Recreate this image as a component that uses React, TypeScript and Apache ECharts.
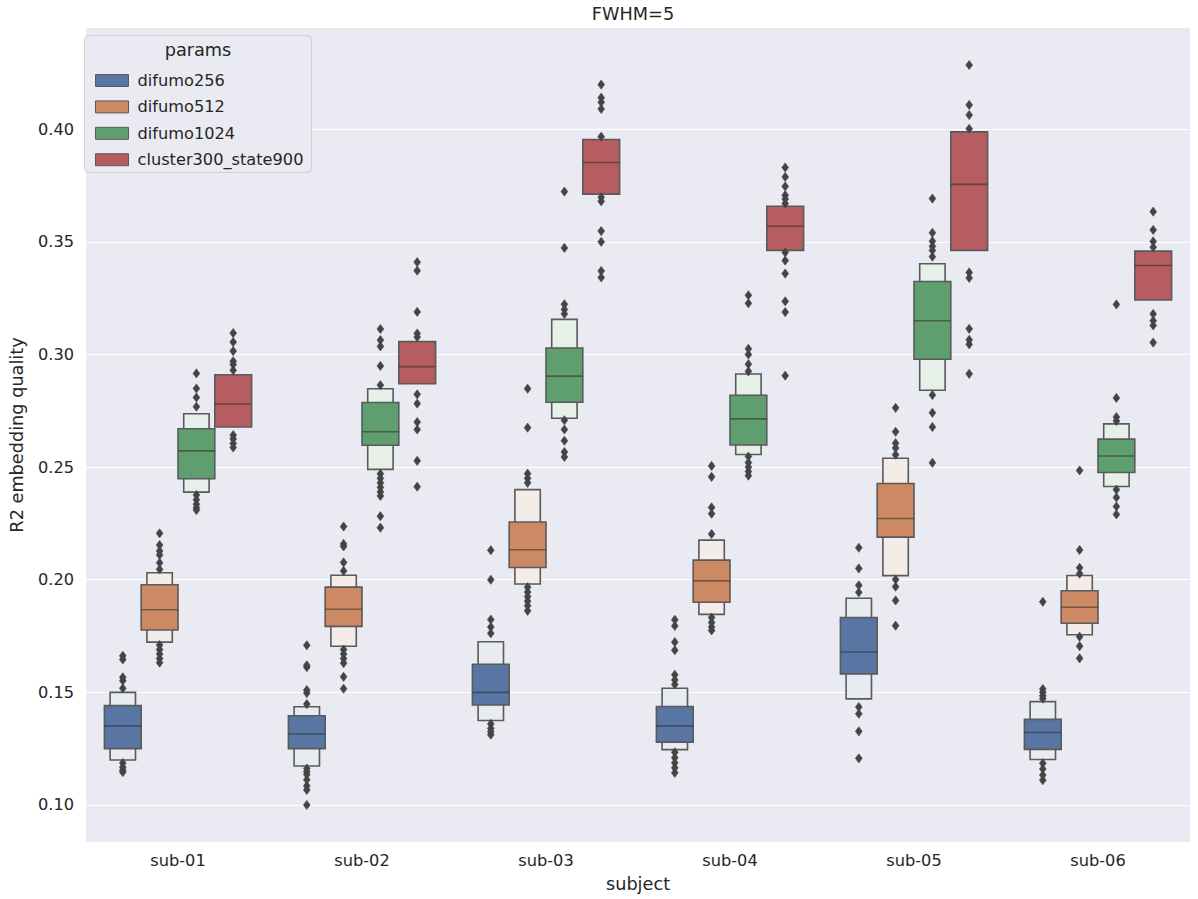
import React, { useEffect, useRef } from "react";
import * as echarts from "echarts";

const subjects = ["sub-01", "sub-02", "sub-03", "sub-04", "sub-05", "sub-06"];
const params = ["difumo256", "difumo512", "difumo1024", "cluster300_state900"];
const yTicks = [0.1, 0.15, 0.2, 0.25, 0.3, 0.35, 0.4];

const mainColors = ["#5875a4", "#cc8963", "#5f9e6e", "#b55d60"];
const lightColors = ["#e8ebf0", "#f4ece8", "#e6f0e8", "#f4e8e8"];

// [param][subject]
const medians = [
  [0.1351, 0.1315, 0.15, 0.1351, 0.1679, 0.1322],
  [0.1867, 0.1869, 0.2133, 0.1995, 0.2272, 0.1878],
  [0.2572, 0.2657, 0.2904, 0.2714, 0.315, 0.2549],
  [0.278, 0.2946, 0.3852, 0.3569, 0.3755, 0.3395],
];
const innerLow = [
  [0.125, 0.125, 0.1444, 0.1279, 0.1582, 0.1247],
  [0.1777, 0.1793, 0.2054, 0.19, 0.2189, 0.1807],
  [0.2448, 0.2597, 0.2788, 0.2598, 0.2979, 0.2476],
  [0.2678, 0.287, 0.3712, 0.3462, 0.3462, 0.3242],
];
const innerHigh = [
  [0.1441, 0.1396, 0.1625, 0.1437, 0.1832, 0.138],
  [0.1978, 0.1967, 0.2256, 0.2087, 0.2427, 0.1951],
  [0.267, 0.2787, 0.3029, 0.2819, 0.3324, 0.2624],
  [0.291, 0.3057, 0.3954, 0.3658, 0.3988, 0.3459],
];
const outerLow: (number | null)[][] = [
  [0.12, 0.1173, 0.1375, 0.1246, 0.1471, 0.1202],
  [0.1723, 0.1705, 0.1981, 0.1846, 0.2018, 0.1756],
  [0.2389, 0.249, 0.2717, 0.2556, 0.2841, 0.2414],
  [null, null, null, null, null, null],
];
const outerHigh: (number | null)[][] = [
  [0.15, 0.1436, 0.1725, 0.1518, 0.1918, 0.1459],
  [0.2031, 0.202, 0.24, 0.2176, 0.2539, 0.2019],
  [0.2737, 0.2848, 0.3156, 0.2913, 0.3403, 0.2692],
  [null, null, null, null, null, null],
];
const outliers: number[][][] = [
  [
    [0.1662, 0.1646, 0.1567, 0.1552, 0.1518, 0.1186, 0.1168, 0.1155, 0.1146],
    [0.1709, 0.162, 0.1612, 0.151, 0.1497, 0.1448, 0.1162, 0.1148, 0.1135, 0.1112, 0.1085, 0.1067, 0.1],
    [0.2131, 0.2, 0.1823, 0.179, 0.1762, 0.136, 0.134, 0.1325, 0.1312],
    [0.1822, 0.1795, 0.1723, 0.1687, 0.1578, 0.1555, 0.1535, 0.1234, 0.121, 0.1187, 0.1165, 0.1143],
    [0.2142, 0.205, 0.1975, 0.1944, 0.1435, 0.1405, 0.1327, 0.1207],
    [0.1902, 0.1515, 0.15, 0.1485, 0.1472, 0.1185, 0.116, 0.1133, 0.111],
  ],
  [
    [0.2206, 0.2154, 0.2128, 0.211, 0.2075, 0.2046, 0.171, 0.169, 0.167, 0.165, 0.1632],
    [0.2236, 0.2159, 0.2148, 0.2077, 0.2039, 0.169, 0.167, 0.165, 0.163, 0.1569, 0.1516],
    [0.2848, 0.2675, 0.2471, 0.245, 0.243, 0.1967, 0.1945, 0.1925, 0.1905, 0.1885, 0.1862],
    [0.2505, 0.2457, 0.2321, 0.2293, 0.2203, 0.1832, 0.181, 0.179, 0.1775],
    [0.2763, 0.2657, 0.2606, 0.2585, 0.2555, 0.2001, 0.1969, 0.1908, 0.1796],
    [0.2485, 0.2132, 0.2053, 0.2027, 0.1747, 0.1705, 0.1651],
  ],
  [
    [0.2916, 0.2849, 0.2809, 0.2768, 0.2376, 0.2355, 0.2335, 0.232, 0.2309],
    [0.3113, 0.3064, 0.3036, 0.2949, 0.2864, 0.247, 0.245, 0.243, 0.241, 0.239, 0.2372, 0.2282, 0.2231],
    [0.3723, 0.3473, 0.3223, 0.32, 0.318, 0.2708, 0.2667, 0.2617, 0.2567, 0.2545],
    [0.3263, 0.3227, 0.3025, 0.3, 0.2957, 0.2925, 0.2547, 0.252, 0.25, 0.248, 0.2462],
    [0.3692, 0.354, 0.3503, 0.348, 0.3462, 0.3434, 0.282, 0.2741, 0.2678, 0.2519],
    [0.3222, 0.2807, 0.2722, 0.2705, 0.24, 0.2365, 0.2325, 0.229],
  ],
  [
    [0.3095, 0.3055, 0.3015, 0.297, 0.2955, 0.293, 0.2642, 0.2625, 0.2605, 0.2587],
    [0.341, 0.3372, 0.3189, 0.3093, 0.3077, 0.2823, 0.2782, 0.27, 0.2667, 0.2528, 0.2413],
    [0.4198, 0.414, 0.412, 0.409, 0.3967, 0.3698, 0.368, 0.3548, 0.35, 0.3371, 0.3342],
    [0.383, 0.3788, 0.3746, 0.3707, 0.369, 0.367, 0.3453, 0.3417, 0.3359, 0.3236, 0.3188, 0.2906],
    [0.4285, 0.4108, 0.4063, 0.4002, 0.3364, 0.334, 0.3114, 0.3065, 0.3045, 0.2914],
    [0.3634, 0.3553, 0.3502, 0.3476, 0.318, 0.315, 0.3129, 0.3053],
  ],
];

const FONT = "DejaVu Sans";
const TEXT = "#262626";
const EDGE = "#5a5a5a";
const SMALL = 16.2;
const LARGE = 17.7;

export default function App() {
  const ref = useRef<HTMLDivElement>(null);
  useEffect(() => {
    const chart = echarts.init(ref.current!, null, { renderer: "svg" });

    const boxRender = (k: number) => (p: any, api: any) => {
      const idx = api.value(0);
      const band = api.size([1, 0])[0];
      const w = (band * 0.8) / 4;
      const cx = api.coord([idx, 0.2])[0] + (k - 1.5) * w;
      const y = (v: number) => api.coord([idx, v])[1];
      const oLo = api.value(1);
      const iLo = api.value(2);
      const med = api.value(3);
      const iHi = api.value(4);
      const oHi = api.value(5);
      const children: any[] = [];
      if (oLo > 0 && oHi > 0) {
        const ow = w * 0.69;
        children.push({
          type: "rect",
          shape: { x: cx - ow / 2, y: y(oHi), width: ow, height: y(oLo) - y(oHi) },
          style: { fill: lightColors[k], stroke: EDGE, lineWidth: 1.6 },
        });
      }
      children.push({
        type: "rect",
        shape: { x: cx - w / 2, y: y(iHi), width: w, height: y(iLo) - y(iHi) },
        style: { fill: mainColors[k], stroke: EDGE, lineWidth: 1.6 },
      });
      children.push({
        type: "line",
        shape: { x1: cx - w / 2, y1: y(med), x2: cx + w / 2, y2: y(med) },
        style: { stroke: "rgba(45,45,45,0.55)", lineWidth: 1.6 },
      });
      return { type: "group", children };
    };

    const outlierRender = (k: number) => (p: any, api: any) => {
      const idx = api.value(0);
      const band = api.size([1, 0])[0];
      const w = (band * 0.8) / 4;
      const pt = api.coord([idx, api.value(1)]);
      const cx = pt[0] + (k - 1.5) * w;
      const cy = pt[1];
      return {
        type: "polygon",
        shape: { points: [[cx, cy - 4.6], [cx + 3.4, cy], [cx, cy + 4.6], [cx - 3.4, cy]] },
        style: { fill: "#444444", stroke: "#444444", lineWidth: 0.6 },
      };
    };

    const series: any[] = [];
    params.forEach((name, k) => {
      series.push({
        type: "custom",
        name,
        renderItem: boxRender(k),
        itemStyle: { color: mainColors[k], borderColor: EDGE, borderWidth: 1 },
        encode: { x: 0, y: [1, 2, 3, 4, 5] },
        data: subjects.map((s, i) => [
          i,
          outerLow[k][i] == null ? "-" : outerLow[k][i],
          innerLow[k][i],
          medians[k][i],
          innerHigh[k][i],
          outerHigh[k][i] == null ? "-" : outerHigh[k][i],
        ]),
        z: 3,
      });
    });
    params.forEach((name, k) => {
      const data: any[] = [];
      subjects.forEach((s, i) => outliers[k][i].forEach((v) => data.push([i, v])));
      series.push({
        type: "custom",
        name: name + " outliers",
        renderItem: outlierRender(k),
        itemStyle: { color: "#444444" },
        encode: { x: 0, y: 1 },
        data,
        z: 4,
      });
    });

    const option: any = {
      animation: false,
      backgroundColor: "#ffffff",
      textStyle: { fontFamily: FONT },
      grid: { left: 76, top: 28, width: 1114, height: 814, show: true, backgroundColor: "#EAEAF2", borderWidth: 0 },
      xAxis: {
        type: "category",
        data: subjects,
        boundaryGap: true,
        axisLine: { show: false },
        axisTick: { show: false },
        splitLine: { show: false },
        axisLabel: { fontSize: SMALL, color: TEXT, margin: 10, fontFamily: FONT },
        name: "subject",
        nameLocation: "middle",
        nameGap: 33,
        nameTextStyle: { fontSize: LARGE, color: TEXT, fontFamily: FONT },
      },
      yAxis: {
        type: "value",
        min: 0.08357,
        max: 0.44493,
        axisLine: { show: false },
        axisTick: { show: false, customValues: yTicks },
        axisLabel: {
          customValues: yTicks,
          fontSize: SMALL,
          color: TEXT,
          margin: 12,
          fontFamily: FONT,
          formatter: (v: number) => v.toFixed(2),
        },
        splitLine: { show: true, lineStyle: { color: "#ffffff", width: 1.2 } },
        name: "R2 embedding quality",
        nameLocation: "middle",
        nameGap: 60,
        nameRotate: 90,
        nameTextStyle: { fontSize: LARGE, color: TEXT, fontFamily: FONT },
      },
      legend: {
        data: params,
        orient: "vertical",
        left: 90,
        top: 67,
        itemWidth: 33,
        itemHeight: 12,
        itemGap: 9.4,
        icon: "rect",
        itemStyle: { borderColor: EDGE, borderWidth: 1 },
        textStyle: { fontSize: SMALL, color: TEXT, fontFamily: FONT, lineHeight: 17, padding: [0, 0, 0, 4] },
        z: 5,
      },
      graphic: [
        {
          type: "rect",
          z: 4,
          shape: { x: 84.5, y: 35.5, width: 227, height: 137, r: 4 },
          style: { fill: "rgba(234,234,242,0.9)", stroke: "#cfcfd6", lineWidth: 1 },
        },
        {
          type: "text",
          z: 5,
          x: 198,
          y: 50,
          style: { text: "params", fontSize: LARGE, fill: TEXT, fontFamily: FONT, align: "center", verticalAlign: "middle" },
        },
        {
          type: "text",
          z: 5,
          x: 633,
          y: 14,
          style: { text: "FWHM=5", fontSize: LARGE, fill: TEXT, fontFamily: FONT, align: "center", verticalAlign: "middle" },
        },
      ],
      series,
    };
    chart.setOption(option);
    return () => chart.dispose();
  }, []);
  return <div ref={ref} style={{ position: "fixed", left: 0, top: 0, width: 1198, height: 899 }} />;
}
